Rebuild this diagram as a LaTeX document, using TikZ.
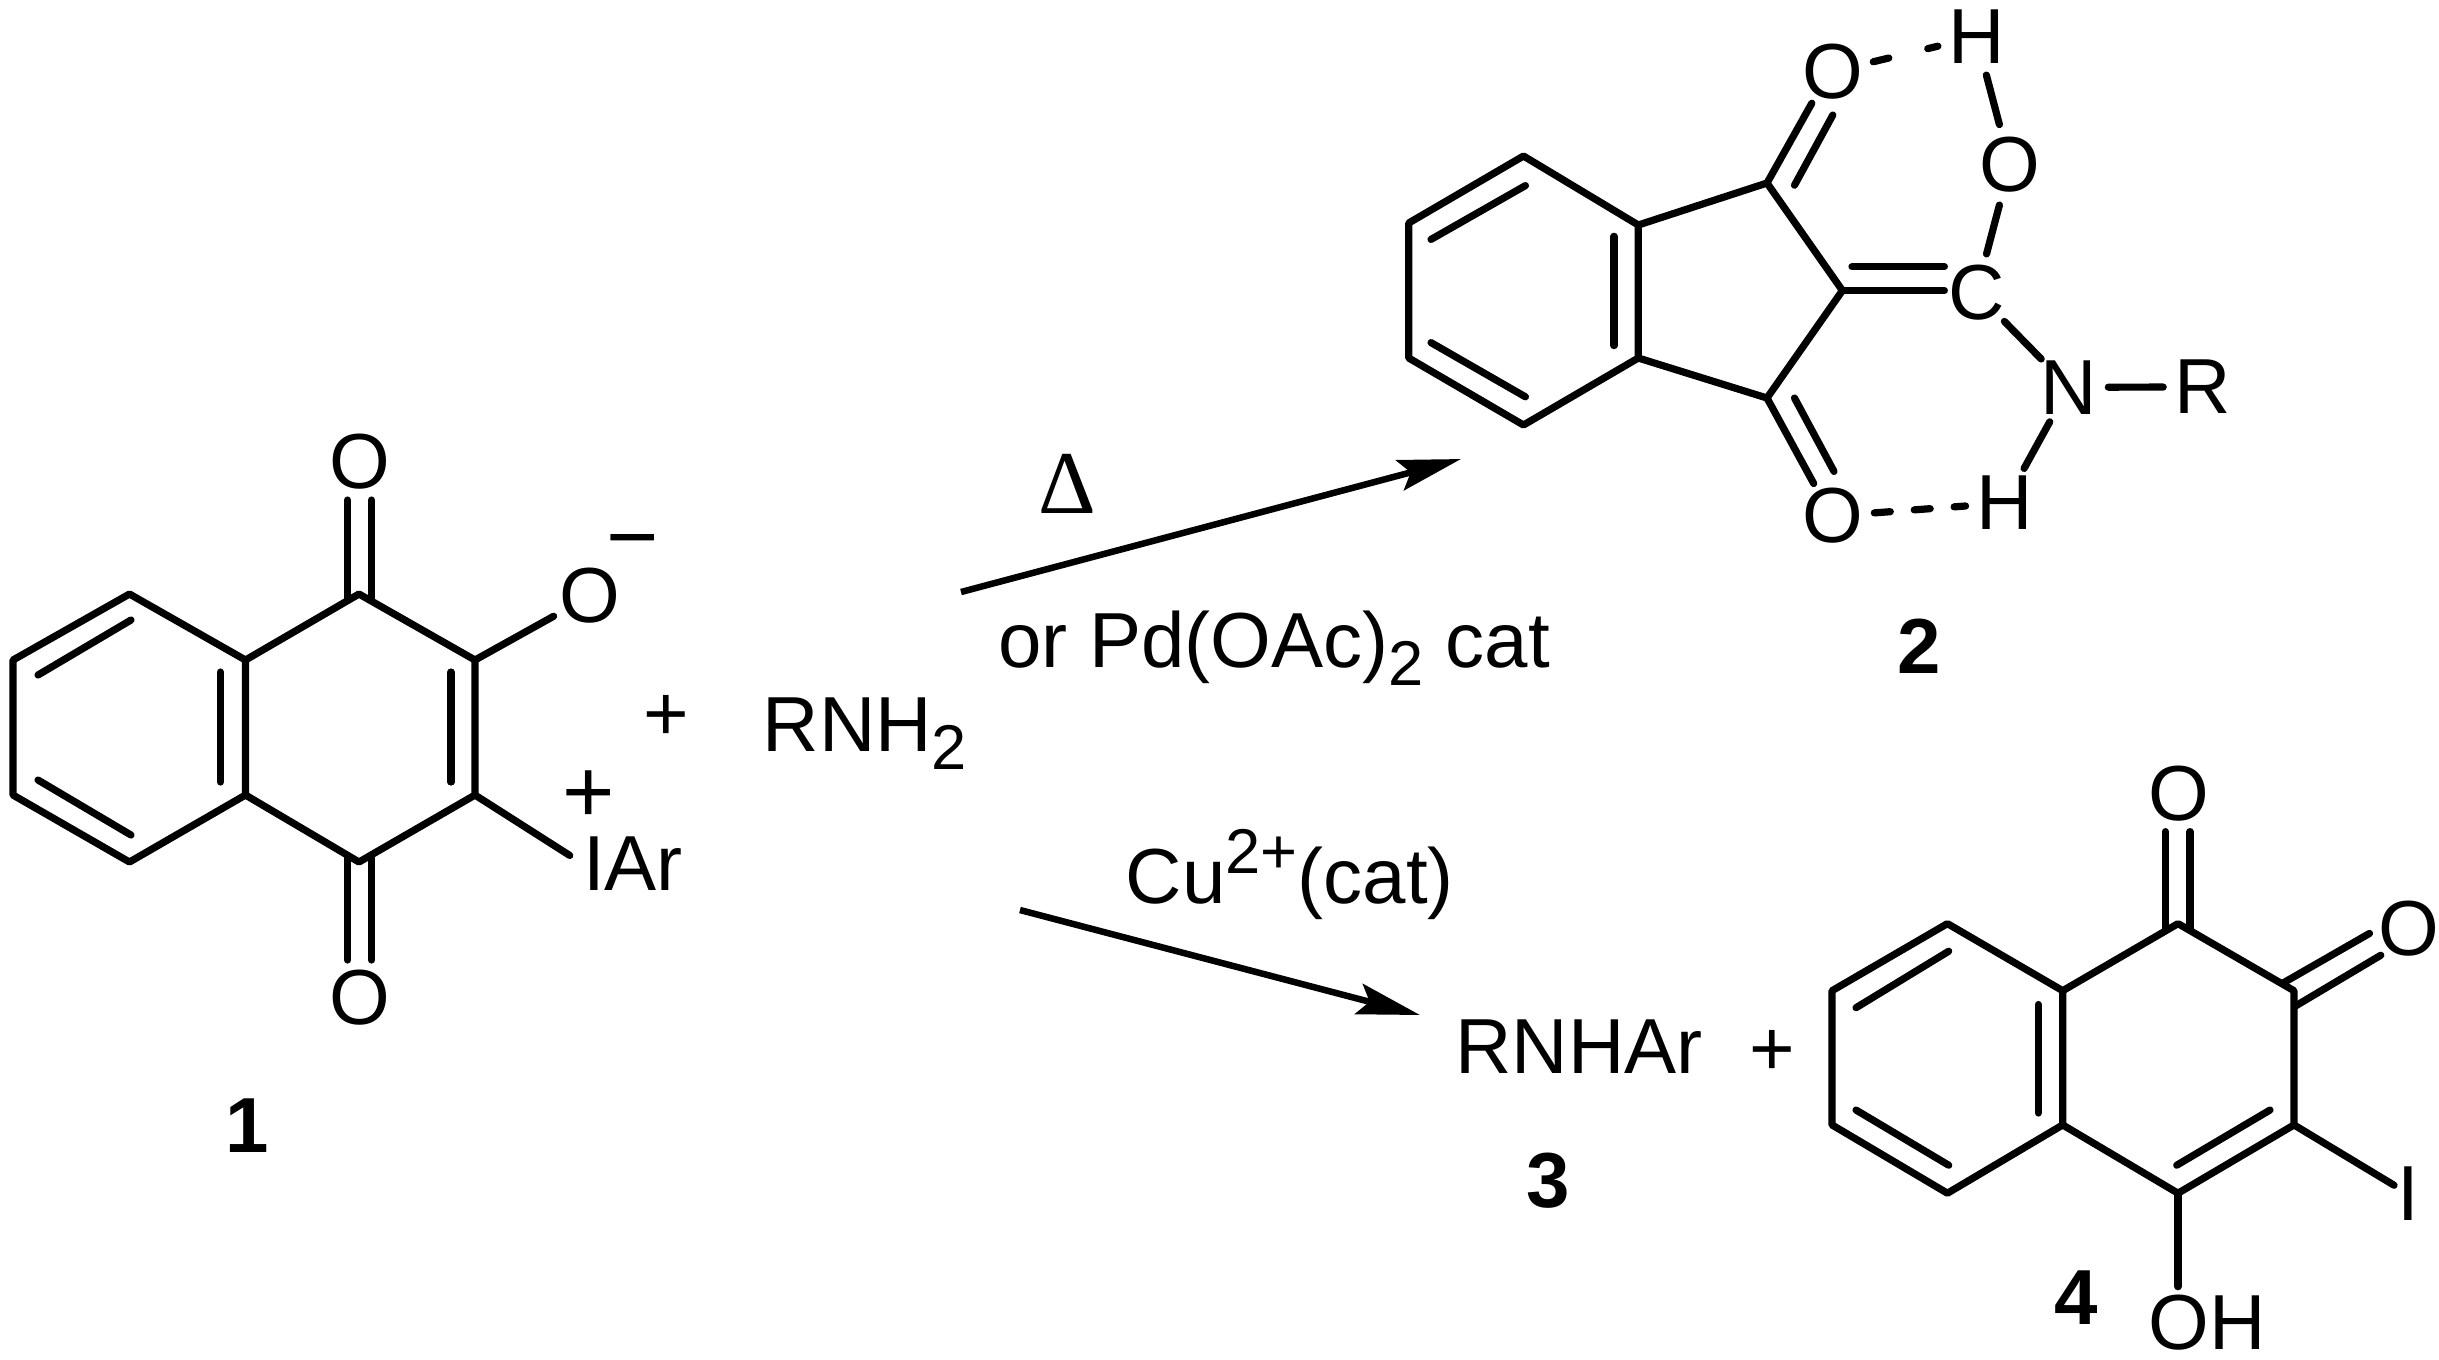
\documentclass[tikz,border=0pt]{standalone}
\usepackage{fontspec}
\setmainfont{Liberation Sans}
\newfontfamily\deltafont{Liberation Serif}
\usetikzlibrary{arrows.meta}
\newcommand{\chemsize}{\fontsize{22.2}{24}\selectfont}
\newcommand{\subnum}[1]{\raisebox{-5pt}{\fontsize{18}{19}\selectfont #1}}
\newcommand{\supnum}[1]{\raisebox{8.5pt}{\fontsize{18}{19}\selectfont #1}}
\tikzset{
  bond/.style={line width=0.072cm,line cap=round,line join=round,draw=black},
  hbond/.style={bond,dash pattern=on 0.16cm off 0.24cm},
  atom/.style={circle,inner sep=0,minimum size=0.76cm,font=\chemsize},
  chemtext/.style={inner sep=0,font=\chemsize},
  baseleft/.style={chemtext,anchor=base west},
  charge/.style={inner sep=0,font=\fontsize{25.5}{27}\selectfont},
  number/.style={inner sep=0,font=\chemsize\bfseries},
  reaction/.style={-{Stealth[length=0.63cm,width=0.31cm,inset=0.11cm]},line width=0.065cm,draw=black}
}
\begin{document}
\begin{tikzpicture}[x=0.01cm,y=-0.01cm]
\useasboundingbox (0,0) rectangle (2439,1359);
% 1
\coordinate (a1) at (129.5,594);
\coordinate (a2) at (13,660);
\coordinate (a3) at (13,795);
\coordinate (a4) at (129.5,862);
\coordinate (a5) at (245.5,795);
\coordinate (a6) at (245.5,660);
\coordinate (a7) at (359,594);
\coordinate (a8) at (475,660);
\coordinate (a9) at (475,795);
\coordinate (a10) at (359,862);
\draw[bond] (a1) -- (a2) -- (a3) -- (a4) -- (a5) -- (a6) -- cycle;
\draw[bond] (a6) -- (a7) -- (a8) -- (a9) -- (a10) -- (a5);
\coordinate (ai1) at (38,675);
\coordinate (ai2) at (131,620);
\coordinate (ai3) at (38,780);
\coordinate (ai4) at (131,835);
\coordinate (ai5) at (220.5,672);
\coordinate (ai6) at (220.5,782);
\coordinate (ai7) at (451,672);
\coordinate (ai8) at (451,782);
\draw[bond] (ai1) -- (ai2);
\draw[bond] (ai3) -- (ai4);
\draw[bond] (ai5) -- (ai6);
\draw[bond] (ai7) -- (ai8);
\node[atom] (otopA) at (360,461.5) {O};
\node[atom] (obotA) at (360,998) {O};
\node[atom] (ominus) at (590,596) {O};
\node[charge] (minusA) at (632.5,551) {−};
\node[charge] (plusA) at (589,796.5) {+};
\node[chemtext] (iar) at (633,863.5) {IAr};
\coordinate (ao1) at (347.5,500);
\coordinate (ao2) at (347.5,600.5);
\coordinate (ao3) at (371.5,500);
\coordinate (ao4) at (371.5,600.5);
\coordinate (ao5) at (347.5,855.5);
\coordinate (ao6) at (347.5,960);
\coordinate (ao7) at (371.5,855.5);
\coordinate (ao8) at (371.5,960);
\draw[bond] (ao1) -- (ao2);
\draw[bond] (ao3) -- (ao4);
\draw[bond] (ao5) -- (ao6);
\draw[bond] (ao7) -- (ao8);
\draw[bond] (a8) -- (ominus);
\draw[bond,shorten >=0.15cm] (a9) -- (iar.west);
\node[number] (labelA) at (247.5,1126) {1};
% + RNH2 ->
\node[chemtext] (plusB) at (666.5,718) {+};
\node[baseleft] (amine) at (762,751.5) {RNH\subnum{2}};
\coordinate (arrowAs) at (961,592);
\coordinate (arrowAe) at (1461,459);
\draw[reaction] (arrowAs) -- (arrowAe);
\node[inner sep=0,font=\fontsize{25.5}{27}\selectfont\deltafont] (heat) at (1067,483.6) {Δ};
\node[baseleft] (pdcat) at (997.7,667.5) {or Pd(OAc)\subnum{2} cat};
\coordinate (arrowBs) at (1020,910);
\coordinate (arrowBe) at (1420,1015);
\draw[reaction] (arrowBs) -- (arrowBe);
\node[baseleft] (cucat) at (1125,903) {Cu\supnum{2+}(cat)};
% 2
\coordinate (b1) at (1523.5,156);
\coordinate (b2) at (1408.7,223);
\coordinate (b3) at (1408.7,358);
\coordinate (b4) at (1523.5,425);
\coordinate (b5) at (1638.3,358);
\coordinate (b6) at (1638.3,225);
\coordinate (b7) at (1767,183);
\coordinate (b8) at (1842.4,290.5);
\coordinate (b9) at (1767,398);
\draw[bond] (b1) -- (b2) -- (b3) -- (b4) -- (b5) -- (b6) -- cycle;
\draw[bond] (b6) -- (b7) -- (b8) -- (b9) -- (b5);
\coordinate (bi1) at (1431,239.4);
\coordinate (bi2) at (1525.4,185.6);
\coordinate (bi3) at (1431,342.6);
\coordinate (bi4) at (1525.4,396.8);
\coordinate (bi5) at (1614,236.3);
\coordinate (bi6) at (1614,345.6);
\draw[bond] (bi1) -- (bi2);
\draw[bond] (bi3) -- (bi4);
\draw[bond] (bi5) -- (bi6);
\node[atom] (otopB) at (1832.8,71.5) {O};
\node[atom] (obotB) at (1832.8,516) {O};
\node[atom] (htop) at (1976.3,36.9) {H};
\node[atom] (oh) at (2010,164.8) {O};
\node[atom] (carbon) at (1976.3,292.7) {C};
\node[atom] (nitro) at (2068.8,387.2) {N};
\node[atom] (rest) at (2202.7,387) {R};
\node[atom] (hbot) at (2005,503) {H};
\coordinate (bo1) at (1811.8,103.2);
\coordinate (bo2) at (1794.5,185.2);
\coordinate (bo3) at (1832.8,115);
\coordinate (bo4) at (1813.7,483.5);
\coordinate (bo5) at (1794.5,398);
\coordinate (bo6) at (1834,471.4);
\coordinate (bc1) at (1944.4,290.5);
\coordinate (bc2) at (1852,266.7);
\coordinate (bc3) at (1944.4,266.7);
\draw[bond] (b7) -- (bo1);
\draw[bond] (bo2) -- (bo3);
\draw[bond] (b9) -- (bo4);
\draw[bond] (bo5) -- (bo6);
\draw[bond] (b8) -- (bc1);
\draw[bond] (bc2) -- (bc3);
\draw[bond] (htop) -- (oh);
\draw[bond] (oh) -- (carbon);
\draw[bond] (carbon) -- (nitro);
\draw[bond] (nitro) -- (rest);
\draw[bond] (nitro) -- (hbot);
\draw[hbond,dash pattern=on 0.16cm off 0.40cm] (otopB) -- (htop);
\draw[hbond] (obotB) -- (hbot);
\node[number] (labelB) at (1919,646) {2};
% 3 + 4
\node[chemtext] (rnhar) at (1579,1046.6) {RNHAr};
\node[chemtext] (plusC) at (1772.4,1053) {+};
\node[number] (labelC) at (1547.8,1181) {3};
\coordinate (c1) at (1947.4,923.6);
\coordinate (c2) at (1832,990.7);
\coordinate (c3) at (1832,1124.9);
\coordinate (c4) at (1947.4,1193.2);
\coordinate (c5) at (2062.7,1124.9);
\coordinate (c6) at (2062.7,990.7);
\coordinate (c7) at (2178,923.6);
\coordinate (c8) at (2294,990.7);
\coordinate (c9) at (2294,1124.9);
\coordinate (c10) at (2178,1193.2);
\draw[bond] (c1) -- (c2) -- (c3) -- (c4) -- (c5) -- (c6) -- cycle;
\draw[bond] (c6) -- (c7) -- (c8) -- (c9) -- (c10) -- (c5);
\coordinate (ci1) at (1856,1007.7);
\coordinate (ci2) at (1948.7,951.2);
\coordinate (ci3) at (1856,1110);
\coordinate (ci4) at (1948.7,1165.2);
\coordinate (ci5) at (2038.2,1004.5);
\coordinate (ci6) at (2038.2,1113);
\coordinate (ci7) at (2270,1110);
\coordinate (ci8) at (2176.7,1165.2);
\draw[bond] (ci1) -- (ci2);
\draw[bond] (ci3) -- (ci4);
\draw[bond] (ci5) -- (ci6);
\draw[bond] (ci7) -- (ci8);
\node[atom] (otopC) at (2178.7,794) {O};
\node[atom] (orightC) at (2408.6,928.3) {O};
\node[chemtext,inner sep=0.03cm] (iodo) at (2408.6,1194) {I};
\node[chemtext] (hydroxy) at (2207,1323) {OH};
\coordinate (co1) at (2165.5,831.6);
\coordinate (co2) at (2165.5,930);
\coordinate (co3) at (2190,831.6);
\coordinate (co4) at (2190,930);
\coordinate (co5) at (2283.4,982.8);
\coordinate (co6) at (2369.5,933.4);
\coordinate (co7) at (2294.6,1006.5);
\coordinate (co8) at (2380.8,955.2);
\draw[bond] (co1) -- (co2);
\draw[bond] (co3) -- (co4);
\draw[bond] (co5) -- (co6);
\draw[bond] (co7) -- (co8);
\draw[bond] (c9) -- (iodo);
\draw[bond,shorten >=0.08cm] (c10) -- (c10 |- hydroxy.north);
\node[number] (labelD) at (2076,1298) {4};
\end{tikzpicture}
\end{document}
